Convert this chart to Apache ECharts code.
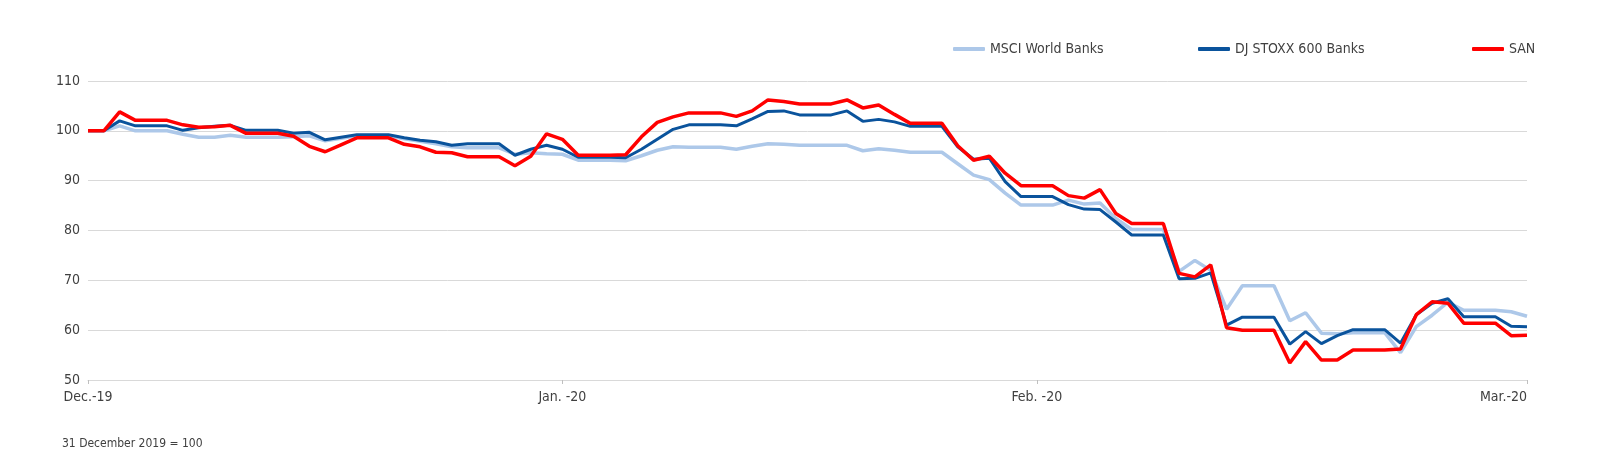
<!DOCTYPE html>
<html>
<head>
<meta charset="utf-8">
<script src="https://cdn.jsdelivr.net/npm/echarts@6/dist/echarts.min.js"></script>
<style>
html,body{margin:0;padding:0;background:#fff;}
#chart{width:1600px;height:474px;}
</style>
</head>
<body>
<div id="chart"></div>
<script>
// Daily points from 31 Dec 2019 to 31 Mar 2020 (weekends/holidays carry the last close)
const startDate = new Date(Date.UTC(2019, 11, 31));
const categories = [];
for (let i = 0; i < 92; i++) {
  const d = new Date(startDate.getTime() + i * 86400000);
  categories.push(d.toISOString().slice(0, 10));
}
const tickIndices = [0, 30, 60, 91];
const tickLabels = ["Dec.-19", "Jan. -20", "Feb. -20", "Mar.-20"];
const yTicks = [50, 60, 70, 80, 90, 100, 110];

const msciWorldBanks = [
  100, 100, 101.0, 100.0, 100.0, 100.0, 99.3, 98.7, 98.7, 99.1,
  98.7, 98.7, 98.7, 98.8, 99.0, 98.0, 98.5, 99.0, 99.0, 99.0,
  98.4, 97.9, 97.4, 96.8, 96.6, 96.6, 96.6, 95.3, 95.6, 95.4,
  95.3, 94.1, 94.1, 94.1, 94.0, 95.0, 96.1, 96.8, 96.7, 96.7,
  96.7, 96.3, 96.9, 97.4, 97.3, 97.1, 97.1, 97.1, 97.1, 96.0,
  96.4, 96.1, 95.7, 95.7, 95.7, 93.4, 91.1, 90.2, 87.5, 85.1,
  85.1, 85.1, 86.1, 85.3, 85.5, 82.4, 80.2, 80.2, 80.2, 71.8,
  74.0, 72.0, 64.2, 68.9, 68.9, 68.9, 61.9, 63.5, 59.4, 59.3,
  59.5, 59.5, 59.5, 55.5, 60.7, 63.0, 65.6, 64.0, 64.0, 64.0,
  63.7, 62.8
];
const djStoxx600Banks = [
  100, 100, 102.0, 101.0, 101.0, 101.0, 100.1, 100.6, 100.9, 101.1,
  100.1, 100.1, 100.1, 99.5, 99.7, 98.2, 98.7, 99.2, 99.2, 99.2,
  98.6, 98.1, 97.8, 97.1, 97.4, 97.4, 97.4, 95.1, 96.3, 97.1,
  96.3, 94.7, 94.7, 94.7, 94.6, 96.3, 98.3, 100.3, 101.2, 101.2,
  101.2, 101.0, 102.4, 103.9, 104.0, 103.2, 103.2, 103.2, 104.0, 101.9,
  102.3, 101.8, 100.9, 100.9, 100.9, 96.8, 94.3, 94.5, 89.8, 86.8,
  86.8, 86.8, 85.2, 84.3, 84.2, 81.7, 79.1, 79.1, 79.1, 70.3,
  70.4, 71.5, 61.0, 62.6, 62.6, 62.6, 57.2, 59.7, 57.3, 58.9,
  60.1, 60.1, 60.1, 57.4, 63.1, 65.4, 66.3, 62.7, 62.7, 62.7,
  60.8, 60.7
];
const san = [
  100, 100, 103.8, 102.1, 102.1, 102.1, 101.2, 100.7, 100.8, 101.1,
  99.5, 99.5, 99.5, 98.9, 96.9, 95.8, 97.2, 98.6, 98.6, 98.6,
  97.3, 96.8, 95.7, 95.6, 94.8, 94.8, 94.8, 93.0, 94.9, 99.4,
  98.3, 95.1, 95.1, 95.1, 95.2, 98.8, 101.7, 102.8, 103.6, 103.6,
  103.6, 102.9, 104.0, 106.2, 105.9, 105.4, 105.4, 105.4, 106.2, 104.6,
  105.2, 103.3, 101.5, 101.5, 101.5, 97.0, 94.1, 94.9, 91.5, 89.0,
  89.0, 89.0, 87.0, 86.5, 88.2, 83.4, 81.4, 81.4, 81.4, 71.4,
  70.7, 73.1, 60.5, 60.0, 60.0, 60.0, 53.4, 57.7, 54.0, 54.0,
  56.0, 56.0, 56.0, 56.2, 63.1, 65.7, 65.4, 61.4, 61.4, 61.4,
  58.9, 59.0
];
const seriesNames = ["MSCI World Banks", "DJ STOXX 600 Banks", "SAN"];
const footnote = "31 December 2019 = 100";

const FONT = "'Liberation Sans Narrow', 'DejaVu Sans Condensed', 'Roboto', sans-serif";
const colors = ["#adc8e9", "#0a539c", "#ff0000"];
const tickSet = new Set(tickIndices);

const chart = echarts.init(document.getElementById('chart'), null, {renderer: 'canvas'});
const legendBase = {
  top: 37, icon: 'roundRect', itemWidth: 32, itemHeight: 4, itemGap: 0,
  textStyle: {fontFamily: FONT, fontSize: 14, color: '#404040', padding: [0, 0, 0, 0]},
  selectedMode: false
};
chart.setOption({
  animation: false,
  textStyle: {fontFamily: FONT},
  color: colors,
  legend: [
    Object.assign({}, legendBase, {left: 948, data: [seriesNames[0]]}),
    Object.assign({}, legendBase, {left: 1193, data: [seriesNames[1]]}),
    Object.assign({}, legendBase, {left: 1467, data: [seriesNames[2]]})
  ],
  grid: {left: 88, right: 73, top: 81, bottom: 94, containLabel: false},
  xAxis: {
    type: 'category',
    boundaryGap: false,
    data: categories,
    axisLine: {show: true, lineStyle: {color: '#d9d9d9', width: 1}},
    axisTick: {show: true, length: 4, lineStyle: {color: '#bfbfbf'},
      interval: (idx) => tickSet.has(idx)},
    axisLabel: {
      interval: (idx) => tickSet.has(idx),
      formatter: (val, idx) => tickLabels[tickIndices.indexOf(idx)] || '',
      fontFamily: FONT, fontSize: 14, color: '#404040', margin: 10,
      alignMaxLabel: 'right'
    },
    splitLine: {show: false}
  },
  yAxis: {
    type: 'value',
    min: yTicks[0], max: yTicks[yTicks.length - 1], interval: 10,
    axisLine: {show: false},
    axisTick: {show: false},
    axisLabel: {fontFamily: FONT, fontSize: 14, color: '#404040', margin: 8},
    splitLine: {show: true, lineStyle: {color: '#d9d9d9', width: 1}}
  },
  graphic: [{
    type: 'text', left: 62, top: 438,
    style: {text: footnote, fontFamily: FONT, fontSize: 12, fill: '#404040'}
  }],
  series: [
    {name: seriesNames[0], type: 'line', data: msciWorldBanks, symbol: 'none',
      lineStyle: {width: 3.5, color: colors[0]}, z: 2},
    {name: seriesNames[1], type: 'line', data: djStoxx600Banks, symbol: 'none',
      lineStyle: {width: 3, color: colors[1]}, z: 3},
    {name: seriesNames[2], type: 'line', data: san, symbol: 'none',
      lineStyle: {width: 3.5, color: colors[2]}, z: 4}
  ]
});
</script>
</body>
</html>
